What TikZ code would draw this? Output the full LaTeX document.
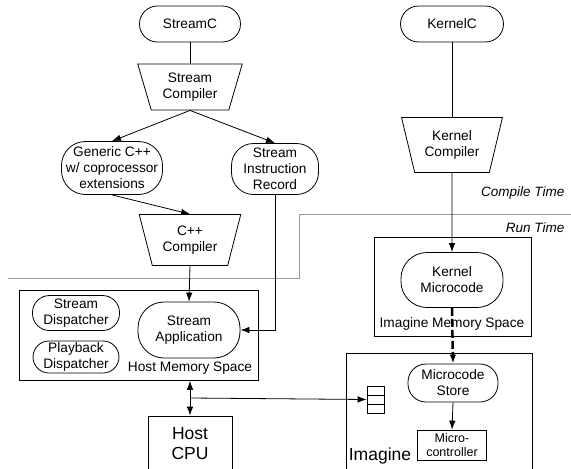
\documentclass[tikz,border=0pt]{standalone}
\usepackage{fontspec}
\setmainfont{Liberation Sans}
\usetikzlibrary{shapes.geometric,arrows.meta}
\tikzset{
  pill/.style={draw, rounded corners=#1, align=center, inner sep=1pt},
  pill/.default=17pt,
  compiler/.style={draw, trapezium, trapezium left angle=108, trapezium right angle=108,
    trapezium stretches=true, align=center, inner sep=1pt},
  space/.style={draw, anchor=north west, inner sep=0pt},
  bigtext/.style={font=\fontsize{17.5}{20}\selectfont},
  timelbl/.style={anchor=base east, font=\fontsize{13.5}{16}\selectfont\itshape},
  fifocell/.style={draw, minimum width=17, minimum height=9, inner sep=0pt}
}
\begin{document}
\begin{tikzpicture}[x=1pt, y=-1pt, line width=0.8pt, >={Latex[length=9pt,width=6.5pt]},
    font=\fontsize{13.7}{16}\selectfont]
    \useasboundingbox (0,0) rectangle (571,469);
    \draw[gray!80, line width=0.7pt] (8,278) -- (299,278) -- (299,214) -- (571,214);
    \node[timelbl] (ctime) at (568,196) {Compile Time};
    \node[timelbl] (rtime) at (568,232) {Run Time};
    % stream side
    \node[pill=18pt, minimum width=101, minimum height=36] (streamc) at (190,24) {StreamC};
    \node[compiler, minimum width=105, minimum height=46] (scomp) at (190,87) {Stream\\Compiler};
    \node[pill=24pt, minimum width=101, minimum height=53] (gencpp) at (112,168) {Generic C++\\w/ coprocessor\\extensions};
    \node[pill=22pt, minimum width=87, minimum height=51] (sir) at (275,169) {Stream\\Instruction\\Record};
    \node[compiler, minimum width=102, minimum height=51] (cppcomp) at (190,240) {C++\\Compiler};
    \node[space, minimum width=239, minimum height=90] (hostmem) at (19,290) {};
    \node[pill=17pt, minimum width=87, minimum height=35] (sdisp) at (76,313) {Stream\\Dispatcher};
    \node[pill=16pt, minimum width=86, minimum height=32] (pdisp) at (76,357) {Playback\\Dispatcher};
    \node[pill=26pt, minimum width=102, minimum height=56] (app) at (189,330) {Stream\\Application};
    \node (hostmemlbl) at (190,368) {Host Memory Space};
    \node[draw, bigtext, minimum width=84, minimum height=56, align=center] (hostcpu) at (190,444) {Host\\CPU};
    \coordinate (bus) at (190,398);
    \draw (streamc) -- (scomp);
    \draw[->] (scomp.south) -- (gencpp.north);
    \draw[->] (scomp.south) -- (sir.north);
    \draw[->] (gencpp.south) -- (cppcomp.north);
    \draw[->] (cppcomp.south) -- (app.north);
    \draw[->] (sir.south) |- (app.east);
    \draw[<->] (hostcpu.north |- hostmem.south) -- (hostcpu.north);
    % kernel side
    \node[pill=18pt, minimum width=103, minimum height=36] (kernelc) at (452,24) {KernelC};
    \node[compiler, minimum width=101, minimum height=55] (kcomp) at (452,145) {Kernel\\Compiler};
    \node[space, minimum width=157, minimum height=99] (imem) at (374,237) {};
    \node[pill=26pt, minimum width=102, minimum height=55] (kmicro) at (452,280) {Kernel\\Microcode};
    \node (imemlbl) at (452,324) {Imagine Memory Space};
    \node[space, minimum width=186, minimum height=130] (imagine) at (346,353) {};
    \node[bigtext] (imaginelbl) at (380,456) {Imagine};
    \node[pill=18pt, minimum width=90, minimum height=38] (mstore) at (453,383) {Microcode\\Store};
    \node[draw, minimum width=69, minimum height=30, align=center, inner sep=1pt,
      font=\fontsize{12.5}{14}\selectfont] (mctrl) at (452,445) {Micro-\\controller};
    \node[fifocell] (fifo1) at (375.5,390.5) {};
    \node[fifocell] (fifo2) at (375.5,399.5) {};
    \node[fifocell] (fifo3) at (375.5,408.5) {};
    \draw (kernelc) -- (kcomp);
    \draw[->] (kcomp.south) -- (kmicro.north);
    \draw[->, line width=2.5pt, dash pattern=on 8pt off 3pt] (kmicro.south) -- (mstore.north);
    \draw[->] (mstore.south) -- (mctrl.north);
    \draw[->] (bus) -- (fifo2.west);
\end{tikzpicture}
\end{document}
